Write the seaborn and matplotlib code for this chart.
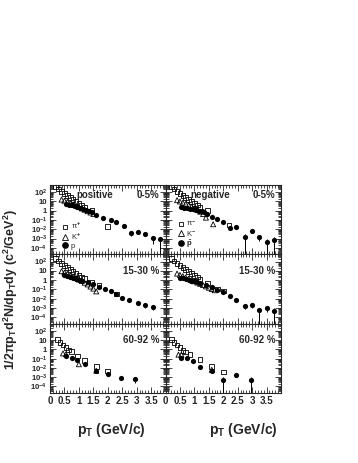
import math
import matplotlib
matplotlib.use("Agg")
import matplotlib.pyplot as plt
import seaborn as sns
from matplotlib.ticker import LogLocator, MultipleLocator, FixedLocator, FuncFormatter, NullFormatter
from matplotlib.lines import Line2D

# ---- data: pT (GeV/c) and invariant yields ----
# positive, 0-5%
pip_c_x = [0.2, 0.3, 0.4, 0.5, 0.6, 0.7, 0.8, 0.9, 1.0, 1.1, 1.2, 1.45, 2.0]
pip_c_y = [380, 220, 125, 72, 42, 26, 16, 10, 6.3, 4, 2.6, 1.0, 0.02]
kp_c_x = [0.4, 0.5, 0.6, 0.7, 0.8, 0.9, 1.0, 1.1, 1.2, 1.3, 1.4, 1.5]
kp_c_y = [16, 12, 9, 6.5, 4.8, 3.5, 2.5, 1.8, 1.3, 0.9, 0.65, 0.45]
p_c_x = [0.55, 0.65, 0.75, 0.85, 0.95, 1.05, 1.15, 1.25, 1.35, 1.45, 1.6, 1.85, 2.1, 2.3, 2.55, 2.8, 3.05, 3.3, 3.55, 3.8]
p_c_y = [5.3, 4.5, 3.8, 3.2, 2.6, 2.1, 1.7, 1.35, 1.05, 0.8, 0.38, 0.16, 0.11, 0.065, 0.021, 0.004, 0.005, 0.0034, 0.0011, 0.0008]
p_c_e = [0, 0, 0, 0, 0, 0, 0, 0, 0, 0, 0, 0, 0, 0, 0.006, 0.002, 0.002, 0.0015, 0.00085, 0.0008]

# negative, 0-5%
pim_c_x = [0.2, 0.3, 0.4, 0.5, 0.6, 0.7, 0.8, 0.9, 1.0, 1.1, 1.2, 1.45, 2.2]
pim_c_y = [380, 220, 125, 72, 42, 26, 16, 10, 6.3, 4, 2.6, 1.0, 0.03]
km_c_x = [0.4, 0.5, 0.6, 0.7, 0.8, 0.9, 1.0, 1.1, 1.2, 1.3, 1.4, 1.65]
km_c_y = [14, 10, 7.5, 5.5, 4, 2.8, 1.9, 1.3, 0.8, 0.45, 0.18, 0.035]
pb_c_x = [0.55, 0.65, 0.75, 0.85, 0.95, 1.05, 1.15, 1.25, 1.35, 1.45, 1.6, 1.8, 2.0, 2.25, 2.45, 2.75, 3.0, 3.25, 3.5, 3.75]
pb_c_y = [2.4, 2.1, 1.85, 1.6, 1.4, 1.2, 1.0, 0.85, 0.7, 0.45, 0.24, 0.13, 0.063, 0.015, 0.017, 0.0016, 0.0063, 0.0016, 0.00046, 0.00066]
pb_c_e = [0, 0, 0, 0, 0, 0, 0, 0, 0, 0, 0, 0, 0, 0, 0.004, 0.0016, 0.002, 0.001, 0.00046, 0.00066]

# positive, 15-30%
pip_m_x = [0.2, 0.3, 0.4, 0.5, 0.6, 0.7, 0.8, 0.9, 1.0, 1.1, 1.2, 1.45, 1.7, 2.3]
pip_m_y = [200, 115, 65, 38, 22, 14, 8.5, 5.3, 3.3, 2.1, 1.4, 0.55, 0.25, 0.03]
kp_m_x = [0.4, 0.5, 0.6, 0.7, 0.8, 0.9, 1.0, 1.1, 1.2, 1.3, 1.4, 1.5, 1.6]
kp_m_y = [9, 6.5, 4.7, 3.4, 2.4, 1.7, 1.15, 0.8, 0.52, 0.34, 0.2, 0.12, 0.06]
p_m_x = [0.5, 0.6, 0.7, 0.8, 0.9, 1.0, 1.1, 1.3, 1.5, 1.7, 1.9, 2.1, 2.3, 2.5, 2.75, 3.05, 3.3, 3.55]
p_m_y = [3.2, 2.7, 2.2, 1.8, 1.45, 1.15, 0.9, 0.57, 0.37, 0.2, 0.107, 0.069, 0.031, 0.012, 0.0064, 0.0031, 0.0019, 0.0014]
p_m_e = [0, 0, 0, 0, 0, 0, 0, 0, 0, 0, 0, 0, 0, 0, 0.002, 0.001, 0.0008, 0.0008]

# negative, 15-30%
pim_m_x = [0.2, 0.3, 0.4, 0.5, 0.6, 0.7, 0.8, 0.9, 1.0, 1.1, 1.2, 1.45, 1.8, 2.0]
pim_m_y = [200, 115, 65, 38, 22, 14, 8.5, 5.3, 3.3, 2.1, 1.1, 0.5, 0.11, 0.065]
km_m_x = [0.4, 0.5, 0.6, 0.7, 0.8, 0.9, 1.0, 1.1, 1.2, 1.3, 1.4, 1.5, 1.6, 1.7]
km_m_y = [5, 3.6, 2.65, 1.93, 1.4, 1.02, 0.74, 0.54, 0.39, 0.29, 0.21, 0.15, 0.11, 0.08]
pb_m_x = [0.5, 0.6, 0.7, 0.8, 0.9, 1.0, 1.1, 1.2, 1.4, 1.6, 1.8, 2.0, 2.25, 2.45, 2.75, 3.0, 3.25, 3.5, 3.75]
pb_m_y = [1.75, 1.5, 1.3, 1.1, 0.9, 0.72, 0.56, 0.45, 0.3, 0.16, 0.08, 0.048, 0.017, 0.0065, 0.0017, 0.0021, 0.00054, 0.00089, 0.00045]
pb_m_e = [0, 0, 0, 0, 0, 0, 0, 0, 0, 0, 0, 0, 0, 0.002, 0.001, 0.001, 0.00054, 0.0005, 0.00045]

# positive, 60-92%
pip_p_x = [0.25, 0.35, 0.45, 0.55, 0.65, 0.75, 0.95, 1.2, 1.6, 2.0]
pip_p_y = [11.5, 5.9, 3.1, 1.6, 0.9, 0.56, 0.2, 0.063, 0.014, 0.0045]
kp_p_x = [0.45, 0.55, 1.0, 1.6]
kp_p_y = [0.37, 0.3, 0.025, 0.005]
p_p_x = [0.55, 0.75, 0.95, 1.2, 1.6, 2.0, 2.45, 2.95]
p_p_y = [0.195, 0.115, 0.072, 0.027, 0.0043, 0.0023, 0.00087, 0.00063]
p_p_e = [0, 0, 0, 0, 0.0015, 0.0008, 0.0004, 0.0004]

# negative, 60-92%
pim_p_x = [0.2, 0.3, 0.4, 0.5, 0.6, 0.7, 0.85, 1.2, 1.6, 2.0]
pim_p_y = [11.5, 5.9, 3.1, 1.6, 0.81, 0.5, 0.28, 0.079, 0.014, 0.0035]
km_p_x = [0.45, 0.55, 1.6]
km_p_y = [0.27, 0.27, 0.0063]
pb_p_x = [0.55, 0.75, 0.95, 1.2, 1.6, 2.0, 2.45, 2.95]
pb_p_y = [0.115, 0.115, 0.059, 0.014, 0.0051, 0.00051, 0.0016, 0.00051]
pb_p_e = [0, 0, 0, 0, 0.002, 0.00051, 0, 0.00051]

x_ticks = [0, 0.5, 1, 1.5, 2, 2.5, 3, 3.5]
x_tick_labels = ['0', '0.5', '1', '1.5', '2', '2.5', '3', '3.5']

sns.set_style('ticks')
plt.rcParams['font.family'] = ['Liberation Sans', 'DejaVu Sans']
plt.rcParams['mathtext.fontset'] = 'custom'
plt.rcParams['mathtext.rm'] = 'Liberation Sans:bold'
plt.rcParams['mathtext.bf'] = 'Liberation Sans:bold'
plt.rcParams['mathtext.it'] = 'Liberation Sans:bold'
plt.rcParams['mathtext.default'] = 'bf'


def ylab(v, pos):
    if v == 10:
        return '10'
    if v == 1:
        return '1'
    e = int(round(math.log10(v)))
    return r'$10^{%d}$' % e


def draw_panel(ax, pi_x, pi_y, k_x, k_y, p_x, p_y, p_e):
    ax.set_yscale('log')
    sns.scatterplot(x=pi_x, y=pi_y, marker='s', s=11, color='black', edgecolor='black',
                    linewidth=0.6, ax=ax, legend=False)
    ax.collections[-1].set_facecolor('none')
    sns.scatterplot(x=k_x, y=k_y, marker='^', s=13, color='black', edgecolor='black',
                    linewidth=0.6, ax=ax, legend=False)
    ax.collections[-1].set_facecolor('none')
    ax.errorbar(p_x, p_y, yerr=[p_e, p_e], fmt='none', ecolor='black', elinewidth=0.7, capsize=0)
    sns.scatterplot(x=p_x, y=p_y, marker='o', s=14, color='black', edgecolor='black',
                    linewidth=0, ax=ax, legend=False)
    ax.set_xlim(0, 4)
    ax.set_ylim(2e-5, 6e2)
    ax.yaxis.set_major_locator(FixedLocator([1e-4, 1e-3, 1e-2, 1e-1, 1, 10, 100]))
    ax.yaxis.set_minor_locator(LogLocator(base=10, subs=range(2, 10), numticks=30))
    ax.yaxis.set_minor_formatter(NullFormatter())
    ax.xaxis.set_major_locator(FixedLocator(x_ticks))
    ax.xaxis.set_minor_locator(MultipleLocator(0.1))
    ax.tick_params(which='both', direction='in', top=True, right=True, width=0.6, labelsize=5.6)
    ax.tick_params(which='major', length=4, pad=2)
    ax.tick_params(which='minor', length=2)
    for sp in ax.spines.values():
        sp.set_linewidth(0.8)
    ax.set_xlabel('')
    ax.set_ylabel('')


fig = plt.figure(figsize=(3.58, 4.63), dpi=100)
x0s = [0.1397, 0.4623]
w = 0.3226
h = 0.1497
y0s = [0.6004 - h, 0.6004 - 2 * h, 0.6004 - 3 * h]

panels = [
    [(pip_c_x, pip_c_y, kp_c_x, kp_c_y, p_c_x, p_c_y, p_c_e),
     (pim_c_x, pim_c_y, km_c_x, km_c_y, pb_c_x, pb_c_y, pb_c_e)],
    [(pip_m_x, pip_m_y, kp_m_x, kp_m_y, p_m_x, p_m_y, p_m_e),
     (pim_m_x, pim_m_y, km_m_x, km_m_y, pb_m_x, pb_m_y, pb_m_e)],
    [(pip_p_x, pip_p_y, kp_p_x, kp_p_y, p_p_x, p_p_y, p_p_e),
     (pim_p_x, pim_p_y, km_p_x, km_p_y, pb_p_x, pb_p_y, pb_p_e)],
]
cent = ['0-5%', '15-30 %', '60-92 %']
cent_y = [0.86, 0.76, 0.76]

axes = []
for r in range(3):
    row = []
    for c in range(2):
        ax = fig.add_axes([x0s[c], y0s[r], w, h])
        draw_panel(ax, *panels[r][c])
        if c == 0:
            ax.yaxis.set_major_formatter(FuncFormatter(ylab))
            for t in ax.get_yticklabels():
                t.set_fontweight('bold')
        else:
            ax.set_yticklabels([])
        if r == 2:
            ax.set_xticklabels(x_tick_labels, fontweight='bold', fontsize=7)
        else:
            ax.set_xticklabels([])
        ax.text(0.95, cent_y[r], cent[r], transform=ax.transAxes, ha='right', va='center',
                fontsize=7, fontweight='bold')
        row.append(ax)
    axes.append(row)

axes[0][0].text(0.39, 0.86, 'positive', transform=axes[0][0].transAxes, ha='center', va='center',
                fontsize=7, fontweight='bold')
axes[0][1].text(0.39, 0.86, 'negative', transform=axes[0][1].transAxes, ha='center', va='center',
                fontsize=7, fontweight='bold')


def species_legend(ax, labels):
    hs = [Line2D([], [], marker='s', ls='', mfc='none', mec='black', ms=3.5, mew=0.6),
          Line2D([], [], marker='^', ls='', mfc='none', mec='black', ms=3.8, mew=0.6),
          Line2D([], [], marker='o', ls='', mfc='black', mec='black', ms=3.8)]
    ax.legend(hs, labels, loc='lower left', bbox_to_anchor=(0.08, 0.02), frameon=False,
              fontsize=5.5, handlelength=0.8, handletextpad=0.3, labelspacing=0.05,
              borderaxespad=0.2, borderpad=0.2)


species_legend(axes[0][0], ['π$^{+}$', 'K$^{+}$', 'p'])
species_legend(axes[0][1], ['π$^{-}$', 'K$^{-}$', r'$\bar{p}$'])

fig.text(0.31, 0.072, 'p$_T$ (GeV/c)', ha='center', va='center', fontsize=10, fontweight='bold')
fig.text(0.68, 0.072, 'p$_T$ (GeV/c)', ha='center', va='center', fontsize=10, fontweight='bold')
fig.text(0.03, 0.375, '1/2πp$_T$d$^2$N/dp$_T$dy (c$^2$/GeV$^2$)', rotation=90, ha='center', va='center',
         fontsize=9, fontweight='bold')

fig.savefig('out.png', dpi=100)
